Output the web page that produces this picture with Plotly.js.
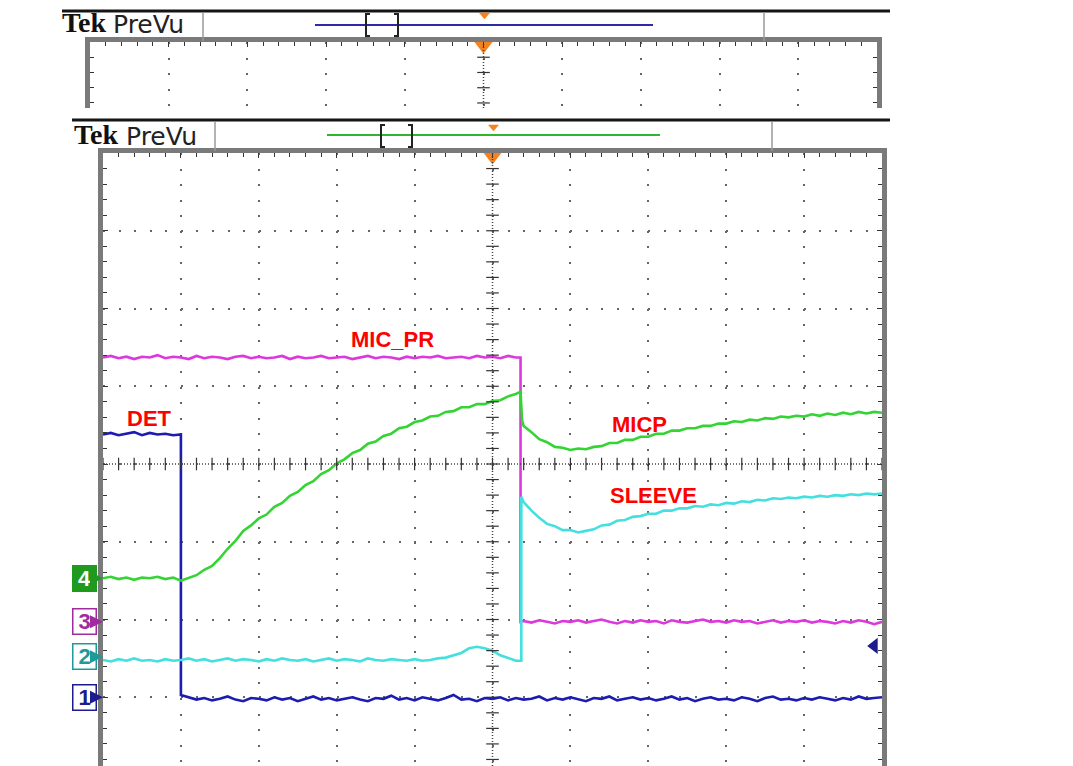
<!DOCTYPE html>
<html><head><meta charset="utf-8">
<script src="https://cdn.plot.ly/plotly-3.0.1.min.js"></script>
<style>html,body{margin:0;padding:0;background:#fff;}#chart{width:1073px;height:766px;}</style>
</head><body><div id="chart"></div>
<script>
// ---- time base in horizontal divisions (10 div across screen) ----
const t = [0,0.1,0.2,0.3,0.4,0.5,0.6,0.7,0.8,0.9,1,1.1,1.2,1.3,1.4,1.5,1.6,1.7,1.8,1.9,2,2.1,2.2,2.3,2.4,2.5,2.6,2.7,2.8,2.9,3,3.1,3.2,3.3,3.4,3.5,3.6,3.7,3.8,3.9,4,4.1,4.2,4.3,4.4,4.5,4.6,4.7,4.8,4.9,5,5.1,5.2,5.3,5.4,5.5,5.6,5.7,5.8,5.9,6,6.1,6.2,6.3,6.4,6.5,6.6,6.7,6.8,6.9,7,7.1,7.2,7.3,7.4,7.5,7.6,7.7,7.8,7.9,8,8.1,8.2,8.3,8.4,8.5,8.6,8.7,8.8,8.9,9,9.1,9.2,9.3,9.4,9.5,9.6,9.7,9.8,9.9,10];

// edge times (div)
const det_edge_t = [1.0, 1.0];
const pr_edge_t = [5.36, 5.36];
const micp_edge_t = [5.36, 5.38];
const sleeve_edge_t = [5.37, 5.37];

// ---- CH1 DET (vertical divisions) ----
const det_high = [0.38,0.40,0.37,0.39,0.41,0.37,0.40,0.38,0.39,0.37,0.38];
const det_low = [-2.97,-3.00,-3.03,-3.01,-3.04,-3.02,-2.99,-3.03,-3.05,-3.01,
 -3.02,-3.04,-3.00,-3.03,-3.01,-3.05,-3.02,-2.99,-3.03,-3.01,
 -3.04,-3.02,-3.00,-3.03,-3.05,-3.01,-3.02,-2.98,-3.03,-3.01,
 -3.04,-3.00,-3.02,-3.04,-3.01,-2.97,-3.03,-3.02,-3.05,-3.01,
 -3.02,-3.00,-3.04,-3.01,-3.03,-3.02,-2.99,-3.04,-3.01,-3.03,
 -3.00,-3.03,-3.05,-3.01,-3.02,-2.99,-3.04,-3.02,-3.00,-3.03,
 -3.01,-3.04,-3.02,-2.99,-3.03,-3.01,-3.05,-3.02,-3.00,-3.03,
 -3.02,-3.04,-3.00,-3.02,-3.05,-3.01,-2.99,-3.03,-3.02,-3.04,
 -3.01,-3.03,-3.00,-3.02,-3.04,-3.01,-3.03,-2.99,-3.02,-3.01,
 -3.00];

// ---- CH3 MIC_PR ----
const pr_before = [1.37,1.39,1.36,1.38,1.35,1.38,1.37,1.40,1.36,1.38,
 1.37,1.35,1.39,1.36,1.38,1.37,1.35,1.38,1.39,1.36,
 1.38,1.36,1.37,1.39,1.35,1.38,1.36,1.37,1.39,1.36,
 1.37,1.38,1.35,1.37,1.39,1.36,1.38,1.37,1.35,1.38,
 1.36,1.38,1.37,1.39,1.36,1.37,1.38,1.36,1.39,1.37,
 1.38,1.36,1.39,1.37];
const pr_edge = [1.37, -2.03];
const pr_after = [-2.02,-2.04,-2.01,-2.03,-2.05,-2.02,
 -2.03,-2.01,-2.04,-2.02,-2.00,-2.03,-2.05,-2.02,-2.04,-2.01,
 -2.03,-2.02,-2.05,-2.01,-2.03,-2.04,-2.02,-2.00,-2.03,-2.02,
 -2.04,-2.01,-2.03,-2.02,-2.05,-2.03,-2.01,-2.04,-2.02,-2.03,
 -2.01,-2.04,-2.02,-2.03,-2.05,-2.02,-2.04,-2.01,-2.03,-2.06,-2.03];

// ---- CH4 MICP ----
const micp_before = [-1.47,-1.45,-1.48,-1.46,-1.49,-1.46,-1.47,-1.45,-1.48,-1.46,
 -1.50,-1.47,-1.43,-1.36,-1.31,-1.21,-1.09,-0.99,-0.86,-0.79,
 -0.70,-0.65,-0.55,-0.50,-0.41,-0.36,-0.27,-0.22,-0.13,-0.08,
 0.01,0.06,0.14,0.18,0.26,0.29,0.36,0.39,0.46,0.48,
 0.54,0.56,0.61,0.62,0.67,0.68,0.73,0.73,0.77,0.77,
 0.81,0.82,0.87,0.90];
const micp_edge = [0.93, 0.56];
const micp_after = [0.49,0.41,0.32,0.28,0.22,0.21,
 0.18,0.20,0.19,0.22,0.23,0.27,0.27,0.31,0.31,0.35,
 0.35,0.39,0.39,0.43,0.43,0.46,0.46,0.49,0.49,0.52,
 0.52,0.55,0.54,0.57,0.56,0.59,0.58,0.61,0.60,0.62,
 0.61,0.64,0.62,0.65,0.63,0.66,0.64,0.67,0.65,0.67,0.66];

// ---- CH2 SLEEVE ----
const sleeve_before = [-2.52,-2.54,-2.51,-2.53,-2.50,-2.53,-2.52,-2.54,-2.51,-2.53,
 -2.52,-2.50,-2.53,-2.51,-2.54,-2.52,-2.50,-2.53,-2.51,-2.52,
 -2.54,-2.51,-2.53,-2.50,-2.52,-2.53,-2.51,-2.54,-2.52,-2.50,
 -2.53,-2.51,-2.52,-2.54,-2.50,-2.52,-2.53,-2.51,-2.52,-2.53,
 -2.51,-2.53,-2.52,-2.50,-2.49,-2.46,-2.43,-2.37,-2.35,-2.37,
 -2.40,-2.46,-2.49,-2.53];
const sleeve_edge = [-2.53, -0.42];
const sleeve_after = [-0.49,-0.60,-0.69,-0.77,-0.80,-0.85,
 -0.85,-0.88,-0.86,-0.84,-0.79,-0.78,-0.73,-0.72,-0.68,-0.67,
 -0.64,-0.64,-0.60,-0.60,-0.57,-0.57,-0.54,-0.55,-0.52,-0.53,
 -0.50,-0.51,-0.48,-0.49,-0.46,-0.47,-0.44,-0.45,-0.43,-0.44,
 -0.42,-0.43,-0.41,-0.42,-0.40,-0.41,-0.39,-0.40,-0.38,-0.39,-0.38];

// channel ground markers
const ch_names = ['1','2','3','4'];
const ch_levels = [-3.0, -2.48, -2.03, -1.47];
const ch_colors = ['#1c1c8c','#1f9a9a','#a02aa0','#1f9a1f'];

// labels
const label_text = ['MIC_PR','DET','MICP','SLEEVE'];
const label_x = [3.72, 0.60, 6.89, 7.07];
const label_y = [1.60, 0.58, 0.51, -0.41];

// trigger markers
const trig_pos = [5];
const trig_level_x = [9.9];
const trig_level_y = [-2.34];

// ------------------------------------------------------------
const W = 1073, H = 766;
const PX = p => p / W, PY = p => 1 - p / H;

const traces = [];
const LW = 2.6;
traces.push({x: t.slice(0,11).concat(t.slice(10)), y: det_high.concat(det_low),
  mode:'lines', line:{color:'#1c1cb0', width:LW}, xaxis:'x', yaxis:'y'});
traces.push({x: t.slice(0,54).concat(pr_edge_t, t.slice(54)), y: pr_before.concat(pr_edge, pr_after),
  mode:'lines', line:{color:'#dd38dd', width:LW}, xaxis:'x', yaxis:'y'});
traces.push({x: t.slice(0,54).concat(micp_edge_t, t.slice(54)), y: micp_before.concat(micp_edge, micp_after),
  mode:'lines', line:{color:'#33d433', width:LW}, xaxis:'x', yaxis:'y'});
traces.push({x: t.slice(0,54).concat(sleeve_edge_t, t.slice(54)), y: sleeve_before.concat(sleeve_edge, sleeve_after),
  mode:'lines', line:{color:'#44e0e0', width:LW}, xaxis:'x', yaxis:'y'});

// graticule centre-line tick marks (built on the axes)
function range(a, b, s){ const r=[]; for(let v=a; v<=b+1e-9; v+=s) r.push(+v.toFixed(3)); return r; }
const ys1 = range(-3.8, 4, 0.2), xs = range(0, 10, 0.2);
traces.push({x: ys1.map(()=>5), y: ys1, mode:'markers', marker:{symbol:'line-ew', size:9, line:{width:1.2, color:'#333'}}, xaxis:'x', yaxis:'y', hoverinfo:'skip'});
traces.push({x: xs, y: xs.map(()=>0), mode:'markers', marker:{symbol:'line-ns', size:9, line:{width:1.2, color:'#333'}}, xaxis:'x', yaxis:'y', hoverinfo:'skip'});
const ys2 = range(3.2, 4, 0.2);
traces.push({x: ys2.map(()=>5), y: ys2, mode:'markers', marker:{symbol:'line-ew', size:9, line:{width:1.2, color:'#333'}}, xaxis:'x2', yaxis:'y2', hoverinfo:'skip'});

// trigger position markers
traces.push({x: trig_pos, y:[3.955], mode:'markers', cliponaxis:false, marker:{symbol:'triangle-down', size:16, color:'#f5821f'}, xaxis:'x', yaxis:'y'});
traces.push({x: trig_pos, y:[3.95], mode:'markers', cliponaxis:false, marker:{symbol:'triangle-down', size:16, color:'#f5821f'}, xaxis:'x2', yaxis:'y2'});
traces.push({x: trig_level_x, y: trig_level_y, mode:'markers', cliponaxis:false, marker:{symbol:'triangle-left', size:14, color:'#1c1c8c'}, xaxis:'x', yaxis:'y'});

const dots = '2px,13.57px';
const axCommon = {showticklabels:false, zeroline:false, fixedrange:true, showgrid:true,
  gridcolor:'#666', gridwidth:2, griddash:dots, dtick:1, tick0:0,
  showline:true, linecolor:'#7a7a7a', linewidth:5, ticks:'inside', ticklen:5, tickcolor:'#333', tickwidth:1,
  minor:{dtick:0.2, ticks:'inside', ticklen:4, tickcolor:'#333', tickwidth:1, showgrid:false}};

const shapes = [];
function line(x0,y0,x1,y1,color,width,dash){ shapes.push({type:'line', xref:'paper', yref:'paper', x0:PX(x0), y0:PY(y0), x1:PX(x1), y1:PY(y1), line:{color:color, width:width, dash:dash||'solid'}}); }
function path(pts, color, fill){ let d='M'+pts.map(p=>PX(p[0])+','+PY(p[1])).join('L'); if(fill) d+='Z';
  shapes.push({type:'path', xref:'paper', yref:'paper', path:d, line:{color:color, width: fill?0.5:2}, fillcolor: fill?color:'rgba(0,0,0,0)'}); }

// centre crosshair (dense dotted)
shapes.push({type:'line', xref:'x', yref:'y', x0:5, x1:5, y0:-3.884, y1:4, line:{color:'#444', width:1.5, dash:'1px,2px'}});
shapes.push({type:'line', xref:'x', yref:'y', x0:0, x1:10, y0:0, y1:0, line:{color:'#444', width:1.5, dash:'1px,2px'}});
shapes.push({type:'line', xref:'x2', yref:'y2', x0:5, x1:5, y0:3.134, y1:4, line:{color:'#444', width:1.5, dash:'1px,2px'}});

// header 1
line(62,11,890,11,'#151515',3);
line(203,12,203,41,'#9a9a9a',1.5);
line(764,12,764,41,'#9a9a9a',1.5);
line(315,25,653,25,'#2b2ba8',2);
path([[370,14],[366,14],[366,36],[370,36]],'#222');
path([[394,14],[398,14],[398,36],[394,36]],'#222');
path([[479.5,13],[489.5,13],[484.5,19]],'#f5821f',true);
// header 2
line(72,120,890,120,'#151515',3);
line(215,122,215,151,'#9a9a9a',1.5);
line(772,122,772,151,'#9a9a9a',1.5);
line(327,135,660,135,'#2fb52f',2);
path([[385,125],[381,125],[381,147],[385,147]],'#222');
path([[408,125],[412,125],[412,147],[408,147]],'#222');
path([[488.5,125],[498.5,125],[493.5,131]],'#f5821f',true);

const ann = [];
function hdr(xTek, xPre, y){
  ann.push({xref:'paper', yref:'paper', x:PX(xTek), y:PY(y), xanchor:'left', yanchor:'middle', showarrow:false,
    text:'<b>Tek</b>', font:{family:'Liberation Serif', size:28, color:'#111'}});
  ann.push({xref:'paper', yref:'paper', x:PX(xPre), y:PY(y+1), xanchor:'left', yanchor:'middle', showarrow:false,
    text:'PreVu', font:{family:'DejaVu Sans', size:25, color:'#222'}});
}
hdr(60, 111, 23);
hdr(72, 124, 135);

label_text.forEach((s,i)=>ann.push({xref:'x', yref:'y', x:label_x[i], y:label_y[i], showarrow:false,
  text:'<b>'+s+'</b>', font:{family:'Liberation Sans', size:22, color:'#ff0000'}}));

ch_names.forEach((n,i)=>{
  const filled = (n==='4');
  ann.push({xref:'x', yref:'y', x:0, y:ch_levels[i], axref:'pixel', ayref:'pixel', ax:-19, ay:0,
    showarrow:true, arrowhead:2, arrowsize:1.3, arrowwidth:2, arrowcolor:ch_colors[i], standoff:0, startstandoff:0,
    text:'<b>'+n+'</b>', font:{family:'Liberation Sans', size:22, color: filled?'#ffffff':ch_colors[i]},
    bgcolor: filled?ch_colors[i]:'#ffffff', bordercolor:ch_colors[i], borderwidth:1.5, borderpad:0, width:22, height:24});
});

const layout = {
  width:W, height:H, margin:{l:0,r:0,t:0,b:0}, paper_bgcolor:'#ffffff', plot_bgcolor:'#ffffff', showlegend:false,
  xaxis: Object.assign({}, axCommon, {domain:[PX(103), PX(882)], range:[0,10], anchor:'y', side:'top', mirror:false}),
  yaxis: Object.assign({}, axCommon, {domain:[0, PY(153)], range:[-3.884,4], anchor:'x', mirror:'allticks'}),
  xaxis2: Object.assign({}, axCommon, {domain:[PX(90), PX(877)], range:[0,10], anchor:'y2', side:'top', mirror:false}),
  yaxis2: Object.assign({}, axCommon, {domain:[PY(108), PY(42)], range:[3.134,4], anchor:'x2', mirror:'allticks'}),
  shapes: shapes, annotations: ann
};
Plotly.newPlot('chart', traces, layout, {staticPlot:true, displayModeBar:false});
</script></body></html>
